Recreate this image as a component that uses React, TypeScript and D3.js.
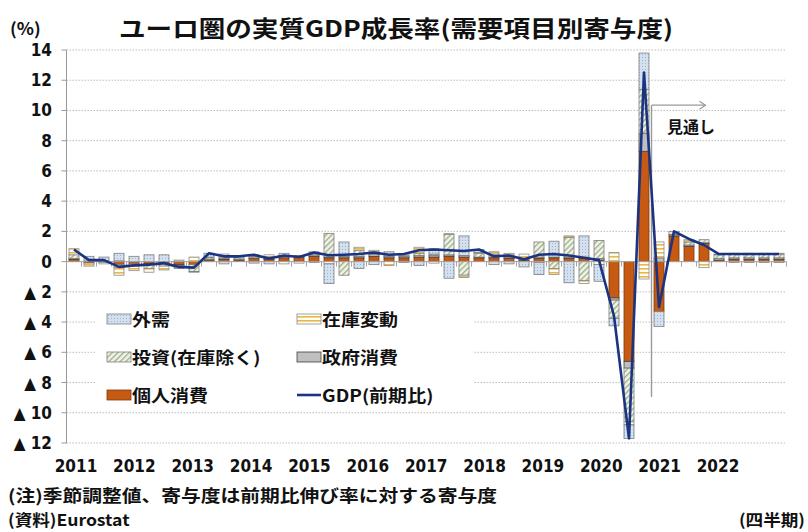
import React from 'react'
import * as d3 from 'd3'

// quarters 2011Q1 .. 2022Q4
const years = ['2011', '2012', '2013', '2014', '2015', '2016', '2017', '2018', '2019', '2020', '2021', '2022']
const quarters = years.flatMap(y => ['Q1', 'Q2', 'Q3', 'Q4'].map(q => y + q))

// contributions (%pt)
const kojin = [0.15, -0.1, -0.05, -0.2, -0.15, -0.15, -0.1, -0.2, -0.2, 0.1, 0.15, 0.1,
  0.2, 0.15, 0.25, 0.3, 0.35, 0.25, 0.25, 0.25, 0.35, 0.25, 0.25, 0.3,
  0.3, 0.35, 0.3, 0.25, 0.25, 0.2, 0.1, 0.2, 0.25, 0.2, 0.2, 0.1,
  -2.4, -6.6, 7.3, -3.3, 1.7, 1.0, 1.2, 0.1, 0.15, 0.15, 0.15, 0.15]
const seifu = [0.05, 0.0, 0.0, 0.05, 0.0, -0.05, 0.0, -0.05, 0.0, 0.05, 0.05, 0.05,
  0.05, 0.1, 0.1, 0.05, 0.1, 0.07, 0.1, 0.1, 0.15, 0.1, 0.1, 0.1,
  0.1, 0.1, 0.1, 0.05, 0.05, 0.1, 0.05, 0.1, 0.05, 0.1, 0.1, 0.1,
  -0.15, -0.45, 1.2, 0.25, 0.1, 0.1, 0.05, 0.1, 0.1, 0.1, 0.1, 0.1]
const toshi = [0.25, 0.05, 0.05, -0.2, -0.15, -0.25, -0.2, -0.2, -0.45, 0.1, 0.1, 0.1,
  0.1, 0.05, 0.05, 0.05, 0.1, 1.55, -0.9, 0.4, 0.15, 0.1, 0.05, 0.15,
  0.1, 1.35, -0.9, 0.25, 0.2, 0.15, 0.05, 1.0, -0.45, 1.3, -1.25, 1.2,
  -1.2, -3.55, 2.9, 0.0, 0.2, 0.2, 0.2, 0.25, 0.25, 0.25, 0.25, 0.25]
const zaiko = [0.4, -0.2, -0.1, -0.5, -0.3, -0.25, -0.25, 0.0, 0.3, 0.05, 0.2, 0.0,
  0.1, 0.15, -0.15, -0.1, 0.1, -0.15, 0.0, 0.2, 0.1, -0.25, 0.1, 0.4,
  -0.1, 0.05, -0.15, 0.05, 0.15, 0.1, 0.3, -0.05, -0.4, 0.1, -0.2, -0.2,
  0.6, -0.2, -1.15, 1.05, 0.0, 0.15, -0.4, 0.0, 0.05, 0.05, 0.05, 0.05]
const gaiju = [0.0, 0.3, 0.25, 0.5, 0.35, 0.45, 0.45, 0.1, -0.05, 0.25, -0.15, 0.1,
  -0.1, -0.15, 0.15, 0.0, -0.05, -1.3, 0.95, -0.45, -0.2, 0.2, -0.05, -0.25,
  0.35, -1.1, 1.3, 0.2, -0.2, -0.15, -0.35, -0.8, 1.05, -1.4, 1.4, -1.1,
  -0.5, -0.9, 2.4, -1.0, 0.0, 0.0, 0.0, 0.05, -0.05, -0.05, -0.05, -0.05]
const gdp = [0.8, 0.1, 0.1, -0.35, -0.25, -0.2, -0.1, -0.35, -0.4, 0.55, 0.35, 0.35,
  0.45, 0.2, 0.4, 0.3, 0.6, 0.42, 0.45, 0.5, 0.6, 0.45, 0.5, 0.75,
  0.8, 0.75, 0.7, 0.8, 0.35, 0.4, 0.15, 0.45, 0.5, 0.4, 0.25, 0.1,
  -3.6, -11.7, 12.5, -3.0, 2.0, 1.5, 1.1, 0.5, 0.5, 0.5, 0.5, 0.5]

const yTicks = [-12, -10, -8, -6, -4, -2, 0, 2, 4, 6, 8, 10, 12, 14]
const forecastFrom = '2020Q4'

const keys = ['kojin', 'seifu', 'toshi', 'zaiko', 'gaiju']
const fills: Record<string, string> = {
  gaiju: 'url(#pGaiju)',
  zaiko: 'url(#pZaiko)',
  toshi: 'url(#pToshi)',
  seifu: '#bfbfbf',
  kojin: '#c65a12'
}
const strokes: Record<string, string> = {
  gaiju: '#7f7f7f',
  zaiko: '#8c8c8c',
  toshi: '#7f7f7f',
  seifu: '#404040',
  kojin: '#7a3a10'
}

const W = 808
const H = 532
const left = 66.5
const right = 786.5
const top = 50
const bottom = 443

const jp = "'Noto Sans CJK JP', 'Noto Sans', sans-serif"
const num = "'Liberation Sans Narrow', 'DejaVu Sans Condensed', 'Liberation Sans', Arial, sans-serif"

// stretched text (the source image is a bit wider than tall)
const SText = ({ x, y, sx = 1.15, size, anchor = 'start', children, family = jp }: any) => (
  <text transform={`translate(${x},${y}) scale(${sx},1)`} fontSize={size} fontFamily={family}
    fontWeight='bold' textAnchor={anchor} fill='#111'>{children}</text>
)

export default function App () {
  const rows = quarters.map((q, i) => ({
    q, kojin: kojin[i], seifu: seifu[i], toshi: toshi[i], zaiko: zaiko[i], gaiju: gaiju[i]
  }))
  const series = d3.stack<any>().keys(keys).offset(d3.stackOffsetDiverging)(rows)

  const x = d3.scaleBand().domain(quarters).range([left, right]).paddingInner(1 / 3).paddingOuter(1 / 6)
  const y = d3.scaleLinear().domain([-12, 14]).range([bottom, top])
  const xYear = d3.scalePoint().domain(years).range([76, 718])
  const cx = (q: string) => (x(q) as number) + x.bandwidth() / 2

  const line = d3.line<number>().x((d, i) => cx(quarters[i])).y(d => y(d))

  const step = x.step()
  const boundaries = d3.range(quarters.length + 1).map(i => left + i * step)
  const sepX = (x(forecastFrom) as number) - step * (1 / 3) / 2

  const legend = [
    { key: 'gaiju', label: '外需', col: 0, row: 0 },
    { key: 'zaiko', label: '在庫変動', col: 1, row: 0 },
    { key: 'toshi', label: '投資(在庫除く)', col: 0, row: 1 },
    { key: 'seifu', label: '政府消費', col: 1, row: 1 },
    { key: 'kojin', label: '個人消費', col: 0, row: 2 },
    { key: 'gdp', label: 'GDP(前期比)', col: 1, row: 2 }
  ]

  return (
    <svg width={W} height={H} style={{ position: 'absolute', left: 0, top: 0, background: '#fff' }}>
      <defs>
        <pattern id='pGaiju' width='3' height='3' patternUnits='userSpaceOnUse'>
          <rect width='3' height='3' fill='#d3e0f0' />
          <rect width='1' height='1' fill='#9fb4d2' />
        </pattern>
        <pattern id='pZaiko' width='4' height='4' patternUnits='userSpaceOnUse'>
          <rect width='4' height='4' fill='#fffdf4' />
          <rect width='4' height='1.6' fill='#e8b84c' />
        </pattern>
        <pattern id='pToshi' width='4' height='4' patternUnits='userSpaceOnUse' patternTransform='rotate(45)'>
          <rect width='4' height='4' fill='#f0f4e8' />
          <rect width='1.3' height='4' fill='#9aab87' />
        </pattern>
      </defs>

      {/* gridlines */}
      {yTicks.map(t => (
        <line key={t} x1={left} x2={right} y1={y(t)} y2={y(t)} stroke='#bdbdbd' strokeWidth={1} strokeDasharray='1.5,1.5' />
      ))}
      <line x1={left} x2={left} y1={top} y2={bottom} stroke='#999' />
      {yTicks.map(t => (
        <line key={'t' + t} x1={left - 5} x2={left} y1={y(t)} y2={y(t)} stroke='#999' />
      ))}

      {/* y labels */}
      {yTicks.map(t => (
        <text key={'l' + t} x={52} y={y(t) + 6} textAnchor='end' fontSize={17} fontWeight='bold'
          fontFamily={num} fill='#111'>
          {t < 0 ? '▲ ' + Math.abs(t) : String(t)}
        </text>
      ))}

      {/* legend background */}
      <rect x={95} y={298} width={378} height={112} fill='#fff' />

      {/* bars */}
      {series.map(s => (
        <g key={s.key}>
          {s.map((d, i) => {
            const y0 = y(d[0])
            const y1 = y(d[1])
            const h = Math.abs(y0 - y1)
            if (h < 0.01) return null
            return (
              <rect key={i} x={x(quarters[i])} y={Math.min(y0, y1)} width={x.bandwidth()} height={h}
                fill={fills[s.key]} stroke={strokes[s.key]} strokeWidth={0.8} />
            )
          })}
        </g>
      ))}

      {/* zero axis */}
      <line x1={left} x2={right} y1={y(0)} y2={y(0)} stroke='#a6a6a6' />
      {boundaries.map((b, i) => (
        <line key={'b' + i} x1={b} x2={b} y1={y(0)} y2={y(0) + 5} stroke='#a6a6a6' />
      ))}

      {/* forecast marker */}
      <line x1={sepX} x2={sepX} y1={y(10.35)} y2={y(-8.95)} stroke='#9a9a9a' strokeWidth={1.4} />
      <line x1={sepX} x2={sepX + 54} y1={y(10.35)} y2={y(10.35)} stroke='#9a9a9a' strokeWidth={1.4} />
      <path d={`M${sepX + 48},${y(10.35) - 4}L${sepX + 54},${y(10.35)}L${sepX + 48},${y(10.35) + 4}`}
        fill='none' stroke='#9a9a9a' strokeWidth={1.2} />
      <SText x={667} y={133} size={16} sx={1}>見通し</SText>

      {/* GDP */}
      <path d={line(gdp) || ''} fill='none' stroke='#1b3380' strokeWidth={2.6} strokeLinejoin='round' />

      {/* legend */}
      {legend.map(l => {
        const sx = l.col === 0 ? 107 : 297
        const sy = 319 + l.row * 38
        return (
          <g key={l.key}>
            {l.key === 'gdp'
              ? <line x1={sx} x2={sx + 24} y1={sy} y2={sy} stroke='#1b3380' strokeWidth={2.6} />
              : <rect x={sx} y={sy - 5} width={24} height={10} fill={fills[l.key]} stroke={strokes[l.key]} strokeWidth={0.8} />}
            <SText x={sx + 25} y={sy + 6.5} size={17} sx={1.12}>{l.label}</SText>
          </g>
        )
      })}

      {/* x labels */}
      {years.map(yr => (
        <text key={yr} x={xYear(yr)} y={472} textAnchor='middle' fontSize={17} fontWeight='bold'
          fontFamily={num} fill='#111'>{yr}</text>
      ))}

      {/* titles & notes */}
      <text x={119} y={37} fontSize={23} fontWeight='bold' fontFamily={jp} fill='#111'
        textLength={554} lengthAdjust='spacingAndGlyphs'>ユーロ圏の実質GDP成長率(需要項目別寄与度)</text>
      <SText x={10} y={35} size={17} sx={1.05}>(%)</SText>
      <text x={8} y={502} fontSize={17} fontWeight='bold' fontFamily={jp} fill='#111'
        textLength={489} lengthAdjust='spacingAndGlyphs'>(注)季節調整値、寄与度は前期比伸び率に対する寄与度</text>
      <SText x={8} y={526} size={16} sx={1.1}>(資料)Eurostat</SText>
      <SText x={805} y={526} size={16} sx={1.1} anchor='end'>(四半期)</SText>
    </svg>
  )
}
